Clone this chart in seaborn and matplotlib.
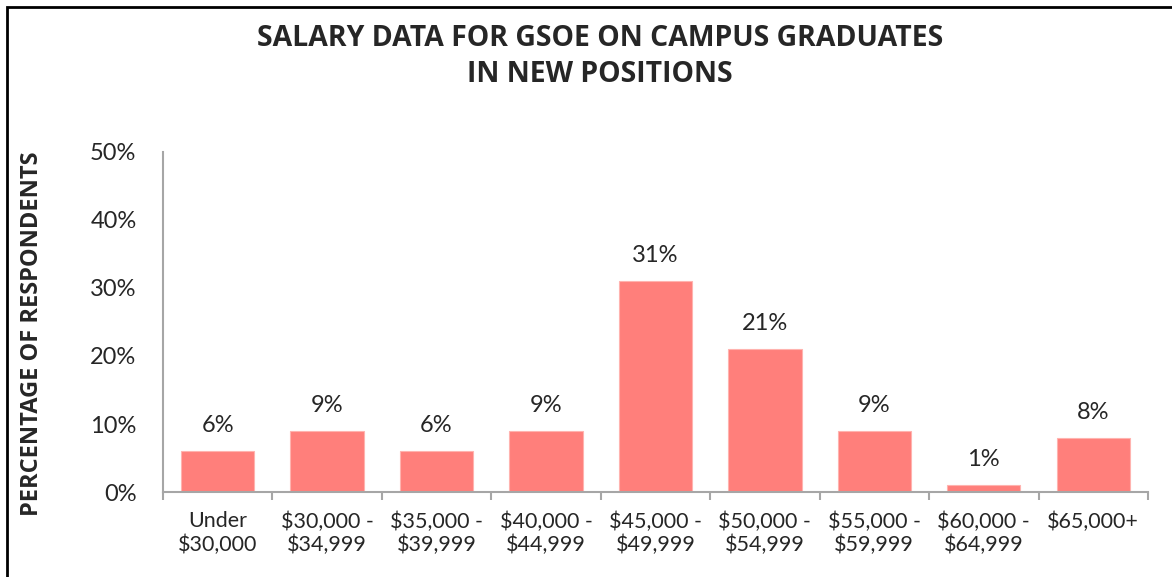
import pandas as pd
import seaborn as sns
import matplotlib.pyplot as plt
from matplotlib.patches import Rectangle
from matplotlib.ticker import FuncFormatter


# salary bands and share of respondents (percent)
bands = ['Under\n$30,000', '$30,000 -\n$34,999', '$35,000 -\n$39,999',
         '$40,000 -\n$44,999', '$45,000 -\n$49,999', '$50,000 -\n$54,999',
         '$55,000 -\n$59,999', '$60,000 -\n$64,999', '$65,000+']
share = [6, 9, 6, 9, 31, 21, 9, 1, 8]

df = pd.DataFrame({'band': bands, 'share': share})

sns.set_style("white")
plt.rcParams['font.family'] = ['Lato', 'DejaVu Sans']
bold_font = ['Open Sans', 'DejaVu Sans']

fig = plt.figure(figsize=(11.72, 5.77), dpi=100)
ax = fig.add_axes([0.139, 0.1473, 0.8405, 0.5893])

sns.barplot(data=df, x='band', y='share', color='#FF7F7B', saturation=1,
            width=0.67, edgecolor='#FFB3AF', linewidth=0.8, ax=ax)

for i, v in enumerate(share):
    ax.text(i, v + 2.2, '%d%%' % v, ha='center', va='bottom', fontsize=17)

ax.set_ylim(0, 50)
ax.set_yticks(range(0, 51, 10))
ax.yaxis.set_major_formatter(FuncFormatter(lambda v, p: '%d%%' % v))
ax.set_xlim(-0.5, len(bands) - 0.5)
ax.set_xlabel('')
ax.set_ylabel('')

ax.tick_params(axis='y', length=0, pad=19, labelsize=17)
ax.tick_params(axis='x', which='major', length=0, pad=14, labelsize=15.5)
ax.set_xticks([i - 0.5 for i in range(len(bands) + 1)], minor=True)
ax.tick_params(axis='x', which='minor', length=6, width=1.5, color='#A6A6A6',
               direction='out', bottom=True)

sns.despine(ax=ax)
for s in ['left', 'bottom']:
    ax.spines[s].set_color('#A6A6A6')
    ax.spines[s].set_linewidth(1.5)

# y axis title sits a bit below the middle of the plot area
fig.text(32 / 1172, 1 - 334 / 577, 'PERCENTAGE OF RESPONDENTS', rotation=90,
         ha='center', va='center', fontsize=17, fontweight='bold',
         family=bold_font)

fig.text(0.512, 0.959, 'SALARY DATA FOR GSOE ON CAMPUS GRADUATES\nIN NEW POSITIONS',
         ha='center', va='top', fontsize=20.4, fontweight='bold',
         family=bold_font, linespacing=1.32)

# chart frame
fig.patches.append(Rectangle((7 / 1172, -0.05), 1.1, 1.05 - 7 / 577,
                             transform=fig.transFigure, fill=False,
                             edgecolor='black', linewidth=2))

fig.savefig('out.png', dpi=100)
